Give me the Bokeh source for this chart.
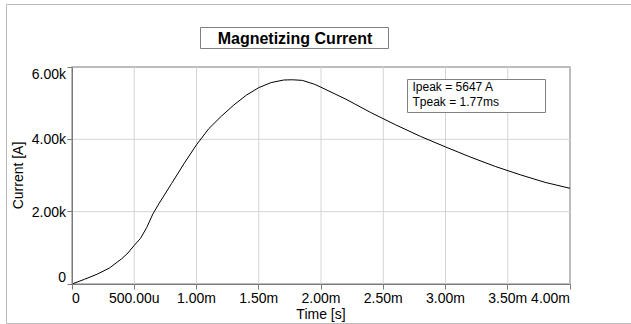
import math
from bokeh.plotting import figure
from bokeh.models import Range1d, FixedTicker, Label, BoxAnnotation, CustomJSTickFormatter
from bokeh.embed import file_html
from bokeh.resources import INLINE

# ---- data (time in ms, current in A) ----
time_ms = [0.0, 0.1, 0.2, 0.3, 0.4, 0.45, 0.5, 0.55, 0.6, 0.65, 0.7, 0.8, 0.9, 1.0,
           1.1, 1.2, 1.3, 1.4, 1.5, 1.6, 1.7, 1.77, 1.85, 1.95, 2.0, 2.2, 2.4, 2.6,
           2.8, 3.0, 3.2, 3.4, 3.6, 3.8, 4.0]
current_a = [0, 130, 268, 440, 700, 860, 1070, 1260, 1560, 1940, 2230, 2780, 3330, 3850,
             4300, 4640, 4950, 5220, 5430, 5570, 5640, 5647, 5630, 5520, 5440, 5110, 4740, 4400,
             4080, 3790, 3510, 3250, 3020, 2810, 2646]

x_ticks = [0, 0.5, 1.0, 1.5, 2.0, 2.5, 3.0, 3.5, 4.0]
x_tick_labels = ["0", "500.00u", "1.00m", "1.50m", "2.00m", "2.50m", "3.00m", "3.50m", "4.00m"]
y_ticks = [0, 2000, 4000, 6000]
y_tick_labels = ["0", "2.00k", "4.00k", "6.00k"]

title_text = "Magnetizing Current"
peak_lines = ["Ipeak = 5647 A", "Tpeak = 1.77ms"]
x_label = "Time [s]"
y_label = "Current [A]"

# ---- layout (pixels, from top-left of the canvas) ----
W, H = 631, 324
FL, FR, FT, FB = 71.5, 569.5, 66.5, 283.5      # plotting area
FONT = "Liberation Sans"
AXIS_COLOR = "#7a7a7a"
GRID_COLOR = "#d4d4d4"
BORDER_COLOR = "#bcbcbc"
BOX_COLOR = "#808080"

x0, x1 = x_ticks[0], x_ticks[-1]
y0, y1 = y_ticks[0], y_ticks[-1]
kx = (FR - FL) / (x1 - x0)
ky = (FB - FT) / (y1 - y0)

p = figure(width=W, height=H, output_backend="svg", toolbar_location=None,
           x_range=Range1d(x0 - FL / kx, x1 + (W - FR) / kx),
           y_range=Range1d(y0 - (H - FB) / ky, y1 + FT / ky),
           min_border=0)
p.background_fill_color = "white"
p.border_fill_color = "white"
p.outline_line_color = None
p.grid.visible = False


def screen_box(left, right, top, bottom, **kw):
    return BoxAnnotation(left=left, right=right, top=H - top, bottom=H - bottom,
                         left_units="screen", right_units="screen",
                         top_units="screen", bottom_units="screen", line_alpha=1, **kw)


# outer frame of the picture
p.add_layout(screen_box(6, W + 10, 4, 323, fill_alpha=0, line_color=BORDER_COLOR,
                        line_width=1, level="underlay"))
# plot area border (top / right visible; left / bottom covered by axes)
p.add_layout(BoxAnnotation(left=x0, right=x1, bottom=y0, top=y1, fill_alpha=0, line_alpha=1,
                           line_color=BORDER_COLOR, line_width=2, level="underlay"))

# grid lines
xg = x_ticks[1:-1]
yg = y_ticks[1:-1]
p.segment(x0=xg, y0=[y0] * len(xg), x1=xg, y1=[y1] * len(xg), line_color=GRID_COLOR, line_width=1)
p.segment(x0=[x0] * len(yg), y0=yg, x1=[x1] * len(yg), y1=yg, line_color=GRID_COLOR, line_width=1)

# curve
p.line(time_ms, current_a, line_color="black", line_width=1)

# axes: lines and ticks only
p.xaxis.fixed_location = y0
p.xaxis.bounds = (x0, x1)
p.xaxis.ticker = FixedTicker(ticks=x_ticks)
p.yaxis.fixed_location = x0
p.yaxis.bounds = (y0, y1)
p.yaxis.ticker = FixedTicker(ticks=y_ticks)
for ax in (p.xaxis, p.yaxis):
    ax.formatter = CustomJSTickFormatter(code="return ''")
    ax.major_label_text_font_size = "0px"
    ax.major_label_standoff = 0
    ax.axis_line_color = AXIS_COLOR
    ax.major_tick_line_color = AXIS_COLOR
    ax.major_tick_out = 5
    ax.major_tick_in = 0
    ax.minor_tick_line_color = None

TXT = dict(text_font=FONT, text_color="black")

# tick labels
for i, (t, s) in enumerate(zip(x_ticks, x_tick_labels)):
    align = "left" if i == 0 else ("right" if i == len(x_ticks) - 1 else "center")
    p.add_layout(Label(x=t, y=y0, text=s, text_align=align, text_baseline="middle",
                       y_offset=-14, text_font_size="14px", **TXT))
for i, (v, s) in enumerate(zip(y_ticks, y_tick_labels)):
    dy = 7 if i == 0 else (-7 if i == len(y_ticks) - 1 else 0)
    p.add_layout(Label(x=x0, y=v, text=s, text_align="right", text_baseline="middle",
                       x_offset=-6, y_offset=dy, text_font_size="14px", **TXT))

# axis titles
p.add_layout(Label(x=(x0 + x1) / 2, y=y0, text=x_label, text_align="center",
                   text_baseline="middle", y_offset=-30, text_font_size="14px", **TXT))
p.add_layout(Label(x=x0, y=(y0 + y1) / 2, text=y_label, text_align="center",
                   text_baseline="middle", x_offset=-54, angle=math.pi / 2,
                   text_font_size="14px", **TXT))

# chart title in a box
p.add_layout(screen_box(200, 388, 27, 48, fill_color="white", fill_alpha=1,
                        line_color=BOX_COLOR, line_width=1))
p.add_layout(Label(x=294.5, y=H - 38, x_units="screen", y_units="screen", text=title_text,
                   text_align="center", text_baseline="middle", text_font_size="16px",
                   text_font_style="bold", **TXT))

# peak annotation box
p.add_layout(screen_box(407, 545, 79, 112, fill_color="white", fill_alpha=1,
                        line_color=BOX_COLOR, line_width=1))
for k, line in enumerate(peak_lines):
    p.add_layout(Label(x=412, y=H - 86 - 15 * k, x_units="screen", y_units="screen", text=line,
                       text_align="left", text_baseline="middle", text_font_size="12px", **TXT))

open("out.html", "w").write(file_html(p, INLINE))
